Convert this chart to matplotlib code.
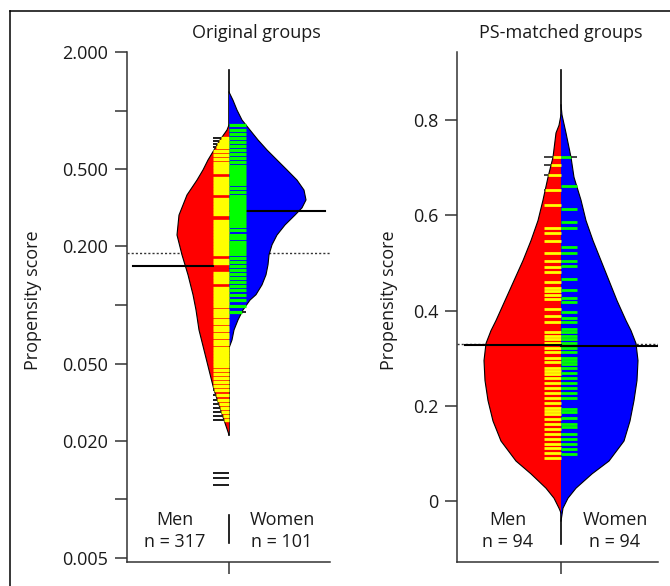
import matplotlib.pyplot as plt
from matplotlib.collections import LineCollection
from matplotlib.lines import Line2D
from matplotlib.ticker import NullLocator
import numpy as np

plt.rcParams["font.family"] = ["Open Sans", "DejaVu Sans"]
plt.rcParams["font.size"] = 13

TITLES = ["Original groups", "PS-matched groups"]
GROUPS = ["Men", "Women"]
ORIG_N = [317, 101]
MATCH_N = [94, 94]
YLABEL = "Propensity score"

# left panel ticks (log scale)
ORIG_TICKS = [0.005, 0.01, 0.02, 0.05, 0.1, 0.2, 0.5, 1.0, 2.0]
ORIG_TICKLABELS = ["0.005", "", "0.020", "0.050", "", "0.200", "0.500", "", "2.000"]
MATCH_TICKS = [0, 0.2, 0.4, 0.6, 0.8]
MATCH_TICKLABELS = ["0", "0.2", "0.4", "0.6", "0.8"]

# bean outlines: score -> half width of density
orig_men_y = [0.843, 0.794, 0.706, 0.627, 0.557, 0.495, 0.439, 0.368, 0.290, 0.229,
              0.181, 0.143, 0.113, 0.0943, 0.0744, 0.0587, 0.0463, 0.0366, 0.0306,
              0.0256, 0.0215]
orig_men_w = [0.0, 0.02, 0.09, 0.15, 0.21, 0.26, 0.32, 0.42, 0.50, 0.52,
              0.47, 0.41, 0.36, 0.33, 0.30, 0.25, 0.20, 0.15, 0.10, 0.05, 0.0]
orig_women_y = [1.245, 1.13, 1.006, 0.894, 0.794, 0.706, 0.627, 0.557, 0.495, 0.439,
                0.390, 0.347, 0.316, 0.290, 0.258, 0.229, 0.204, 0.181, 0.161, 0.143,
                0.127, 0.113, 0.106, 0.0943, 0.0838, 0.0744, 0.0661, 0.0601]
orig_women_w = [0.0, 0.04, 0.08, 0.13, 0.21, 0.29, 0.38, 0.48, 0.58, 0.68,
                0.75, 0.77, 0.73, 0.66, 0.56, 0.48, 0.43, 0.40, 0.39, 0.37,
                0.33, 0.27, 0.21, 0.14, 0.09, 0.05, 0.03, 0.0]

match_men_y = [0.811, 0.789, 0.773, 0.722, 0.680, 0.632, 0.589, 0.547, 0.505, 0.463,
               0.421, 0.379, 0.358, 0.331, 0.295, 0.253, 0.211, 0.168, 0.126, 0.084,
               0.057, 0.027, 0.006, -0.015, -0.025]
match_men_w = [0.0, 0.02, 0.05, 0.08, 0.13, 0.18, 0.23, 0.30, 0.38, 0.47,
               0.56, 0.65, 0.70, 0.75, 0.77, 0.76, 0.73, 0.68, 0.60, 0.45,
               0.30, 0.15, 0.07, 0.02, 0.0]
match_women_y = [0.832, 0.811, 0.773, 0.722, 0.680, 0.632, 0.589, 0.547, 0.505, 0.463,
                 0.421, 0.379, 0.358, 0.331, 0.295, 0.253, 0.211, 0.168, 0.126, 0.084,
                 0.057, 0.027, 0.006, -0.015, -0.042]
match_women_w = [0.0, 0.01, 0.05, 0.10, 0.13, 0.20, 0.25, 0.32, 0.40, 0.48,
                 0.56, 0.65, 0.70, 0.75, 0.77, 0.76, 0.73, 0.69, 0.63, 0.48,
                 0.31, 0.15, 0.07, 0.02, 0.0]

# individual observations (bean lines)
orig_men_obs = [0.7226, 0.6973, 0.6730, 0.6496, 0.6196, 0.5907, 0.5634, 0.5373,
                0.5186, 0.5006, 0.4831, 0.4499, 0.4342, 0.4191, 0.4045, 0.3904,
                0.3768, 0.3509, 0.3387, 0.3269, 0.3155, 0.3045, 0.2939, 0.2705,
                0.2610, 0.2519, 0.2431, 0.2347, 0.2265, 0.2186, 0.2110, 0.2036,
                0.1965, 0.1897, 0.1830, 0.1704, 0.1645, 0.1462, 0.1411, 0.1361,
                0.1314, 0.1224, 0.1181, 0.1140, 0.1100, 0.1062, 0.1025, 0.0989,
                0.0943, 0.0910, 0.0879, 0.0838, 0.0808, 0.0771, 0.0744, 0.0710,
                0.0685, 0.0653, 0.0631, 0.0601, 0.0580, 0.0560, 0.0541, 0.0522,
                0.0504, 0.0486, 0.0464, 0.0442, 0.0422, 0.0402, 0.0384, 0.0366,
                0.0345, 0.0325, 0.0310, 0.0296, 0.0282, 0.0269, 0.0256,
                0.0137, 0.0129, 0.0119]
orig_women_obs = [0.8427, 0.7943, 0.7575, 0.7226, 0.6891, 0.6572, 0.6270, 0.5978,
                  0.5702, 0.5437, 0.5186, 0.5006, 0.4831, 0.4662, 0.4499, 0.4342,
                  0.4191, 0.3998, 0.3813, 0.3636, 0.3509, 0.3387, 0.3269, 0.3155,
                  0.3045, 0.2939, 0.2836, 0.2737, 0.2641, 0.2549, 0.2431, 0.2291,
                  0.2212, 0.2110, 0.2036, 0.1965, 0.1897, 0.1830, 0.1745, 0.1664,
                  0.1587, 0.1514, 0.1444, 0.1377, 0.1314, 0.1253, 0.1195, 0.1127,
                  0.1062, 0.0989, 0.0921]
match_men_obs = [0.722, 0.705, 0.684, 0.653, 0.621, 0.573, 0.562, 0.547, 0.520,
                 0.505, 0.491, 0.482, 0.459, 0.448, 0.442, 0.432, 0.425, 0.404,
                 0.389, 0.375, 0.354, 0.347, 0.341, 0.331, 0.322, 0.312, 0.301,
                 0.291, 0.280, 0.274, 0.267, 0.259, 0.248, 0.238, 0.227, 0.217,
                 0.206, 0.196, 0.189, 0.183, 0.173, 0.162, 0.152, 0.141, 0.131,
                 0.120, 0.112, 0.101, 0.091]
match_women_obs = [0.722, 0.661, 0.613, 0.585, 0.573, 0.533, 0.520, 0.505, 0.493,
                   0.467, 0.444, 0.427, 0.417, 0.396, 0.385, 0.375, 0.362, 0.354,
                   0.347, 0.341, 0.331, 0.322, 0.312, 0.301, 0.295, 0.288, 0.280,
                   0.269, 0.259, 0.248, 0.238, 0.227, 0.217, 0.194, 0.187, 0.175,
                   0.162, 0.156, 0.141, 0.131, 0.120, 0.109, 0.099]

# group means and overall mean
orig_means = [0.159, 0.304]
orig_overall = 0.185
match_means = [0.327, 0.325]
match_overall = 0.329

FILL = ["#ff0000", "#0000ff"]
LINE_COL = ["#ffff00", "#00ff00"]
INK = "#1a1a1a"

W, H = 670, 586


def draw_bean(ax, ys, ws, obs, side, fill, line_col, line_len, lw):
    ys = np.asarray(ys)
    ws = np.asarray(ws)
    ax.fill_betweenx(ys, 0, side * ws, facecolor=fill, edgecolor="none", zorder=2)
    ax.plot(side * ws, ys, color="black", lw=0.8, zorder=3)

    order = np.argsort(ys)
    inside, outside = [], []
    for v in obs:
        hw = np.interp(v, ys[order], ws[order], left=0, right=0)
        reach = min(hw, line_len)
        if reach > 0:
            inside.append([(0, v), (side * reach, v)])
        if hw < line_len:
            outside.append([(side * hw, v), (side * line_len, v)])
    ax.add_collection(LineCollection(inside, colors=line_col, linewidths=lw, zorder=5))
    ax.add_collection(LineCollection(outside, colors="#222222", linewidths=lw * 0.6, zorder=5))


def style_axis(ax, xlim):
    ax.set_xlim(*xlim)
    ax.spines["top"].set_visible(False)
    ax.spines["right"].set_visible(False)
    for s in ("left", "bottom"):
        ax.spines[s].set_linewidth(1.1)
        ax.spines[s].set_color("#333333")
    ax.set_xticks([0])
    ax.set_xticklabels([""])
    ax.tick_params(axis="both", length=8.5, width=1.1, color="#333333",
                   labelcolor=INK, labelsize=13)
    ax.tick_params(axis="y", pad=5)
    ax.yaxis.set_minor_locator(NullLocator())
    ax.set_ylabel(YLABEL, fontsize=13, color=INK)


def add_group_labels(ax, ns, x_men, x_women):
    tr = ax.get_xaxis_transform()
    for x, name, n in zip([x_men, x_women], GROUPS, ns):
        ax.text(x, 0.082, name, transform=tr, ha="center", va="center", color=INK)
        ax.text(x, 0.039, f"n = {n}", transform=tr, ha="center", va="center", color=INK)


fig = plt.figure(figsize=(W / 100, H / 100), dpi=100)

# frame around the figure
fig.add_artist(Line2D([10 / W, 1], [1 - 11 / H] * 2, color="black", lw=1.1))
fig.add_artist(Line2D([10 / W] * 2, [0, 1 - 11 / H], color="black", lw=1.1))

ax1 = fig.add_axes([127 / W, 1 - 562 / H, 203 / W, 510 / H])
ax2 = fig.add_axes([457 / W, 1 - 562 / H, 201 / W, 510 / H])

# ---- original groups
ax1.set_yscale("log")
ax1.set_ylim(0.00477, 2.0)
ax1.axhline(orig_overall, color="#333333", lw=1.0, ls=(0, (1.5, 1.5)), zorder=1)
ax1.plot([0, 0], [1.62, 0.0215], color="black", lw=1.2, zorder=1)
ax1.plot([0, 0], [0.00836, 0.00597], color="black", lw=1.2, zorder=1)
draw_bean(ax1, orig_men_y, orig_men_w, orig_men_obs, -1, FILL[0], LINE_COL[0], 0.16, 2.4)
draw_bean(ax1, orig_women_y, orig_women_w, orig_women_obs, 1, FILL[1], LINE_COL[1], 0.17, 2.3)
ax1.plot([-0.96, -0.16], [orig_means[0]] * 2, color="black", lw=1.5, zorder=4)
ax1.plot([0, 0.96], [orig_means[1]] * 2, color="black", lw=1.5, zorder=4)
style_axis(ax1, (-1.02, 1.01))
ax1.set_yticks(ORIG_TICKS)
ax1.set_yticklabels(ORIG_TICKLABELS)
ax1.yaxis.set_label_coords(-0.42, 0.514)
add_group_labels(ax1, ORIG_N, -0.54, 0.53)

# ---- PS-matched groups
ax2.set_ylim(-0.128, 0.943)
ax2.axhline(match_overall, color="#333333", lw=1.0, ls=(0, (1.5, 1.5)), zorder=1)
ax2.plot([0, 0], [0.905, -0.091], color="black", lw=1.2, zorder=1)
draw_bean(ax2, match_men_y, match_men_w, match_men_obs, -1, FILL[0], LINE_COL[0], 0.17, 2.0)
draw_bean(ax2, match_women_y, match_women_w, match_women_obs, 1, FILL[1], LINE_COL[1], 0.16, 2.0)
ax2.plot([-0.96, 0], [match_means[0]] * 2, color="black", lw=1.5, zorder=6)
ax2.plot([0, 0.96], [match_means[1]] * 2, color="black", lw=1.5, zorder=6)
style_axis(ax2, (-1.04, 0.97))
ax2.set_yticks(MATCH_TICKS)
ax2.set_yticklabels(MATCH_TICKLABELS)
ax2.yaxis.set_label_coords(-0.295, 0.514)
add_group_labels(ax2, MATCH_N, -0.53, 0.54)

fig.text(256 / W, 1 - 33 / H, TITLES[0], ha="center", va="center", fontsize=13, color=INK)
fig.text(561 / W, 1 - 33 / H, TITLES[1], ha="center", va="center", fontsize=13, color=INK)

fig.savefig("out.png", dpi=100)
